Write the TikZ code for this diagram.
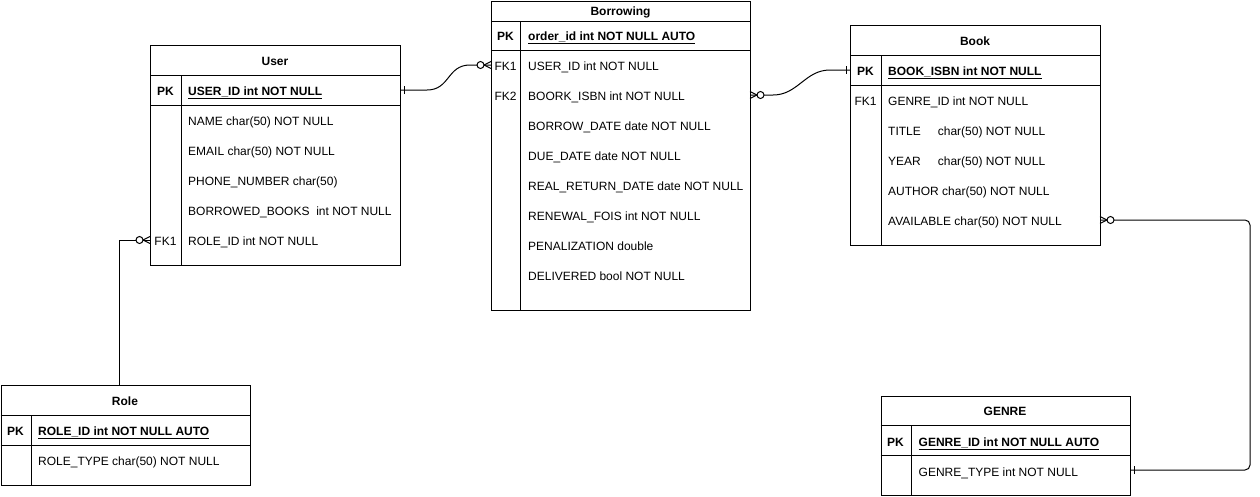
\documentclass[tikz,border=0pt]{standalone}
\usepackage{fontspec}
\setmainfont{Liberation Sans}
\usetikzlibrary{calc}
\tikzset{
  tbox/.style={draw, line width=1pt, inner sep=0pt, anchor=north west},
  tline/.style={line width=1pt},
  ttl/.style={font=\fontsize{12}{14}\selectfont\bfseries, anchor=base, inner sep=0pt},
  kcell/.style={font=\fontsize{12}{14}\selectfont, anchor=base, inner sep=0pt},
  kcellb/.style={kcell, font=\fontsize{12}{14}\selectfont\bfseries},
  attr/.style={font=\fontsize{12}{14}\selectfont, anchor=base west, inner sep=0pt},
  pkattr/.style={attr, font=\fontsize{12}{14}\selectfont\bfseries},
  conn/.style={line width=1pt},
  zeromany/.pic={
    \draw[line width=1pt] (-7,0) -- (0,-3.5) (-7,0) -- (0,3.5);
    \draw[line width=1pt, fill=white] (-10.5,0) circle[radius=3.5pt];
  },
  onetick/.pic={
    \draw[line width=1pt] (-4,-4) -- (-4,4);
  }
}
\begin{document}
\begin{tikzpicture}[x=1pt, y=-1pt]
\fill[white] (0,0) rectangle (1260,496);
\useasboundingbox (0,0) rectangle (1260,496);

% ---------- User ----------
\node[tbox, minimum width=250pt, minimum height=220pt] (user) at (150,45) {};
\draw[tline] (150,75) -- (400,75) (150,105) -- (400,105) (181,75) -- (181,265);
\node[ttl] (usert) at (275,65) {User};
\node[kcellb] (userpkl) at (165.5,95) {PK};
\node[pkattr] (userpk) at (188,95) {\underline{USER\_ID int NOT NULL}};
\node[attr] (ua1) at (188,125) {NAME char(50) NOT NULL};
\node[attr] (ua2) at (188,155) {EMAIL char(50) NOT NULL};
\node[attr] (ua3) at (188,185) {PHONE\_NUMBER char(50)};
\node[attr] (ua4) at (188,215) {BORROWED\_BOOKS\hspace{6.7pt}int NOT NULL};
\node[kcell] (ufk1l) at (165.5,245) {FK1};
\node[attr] (ua5) at (188,245) {ROLE\_ID int NOT NULL};

% ---------- Borrowing ----------
\node[tbox, minimum width=259pt, minimum height=309pt] (borrow) at (491,1) {};
\draw[tline] (491,21) -- (750,21) (491,50) -- (750,50) (520.5,21) -- (520.5,310);
\node[ttl] (borrowt) at (620.5,15) {Borrowing};
\node[kcellb] (bpkl) at (505.5,40) {PK};
\node[pkattr] (bpk) at (528,40) {\underline{order\_id int NOT NULL AUTO}};
\node[kcell] (bfk1l) at (505.5,70) {FK1};
\node[attr] (ba1) at (528,70) {USER\_ID int NOT NULL};
\node[kcell] (bfk2l) at (505.5,100) {FK2};
\node[attr] (ba2) at (528,100) {BOORK\_ISBN int NOT NULL};
\node[attr] (ba3) at (528,130) {BORROW\_DATE date NOT NULL};
\node[attr] (ba4) at (528,160) {DUE\_DATE date NOT NULL};
\node[attr] (ba5) at (528,190) {REAL\_RETURN\_DATE date NOT NULL};
\node[attr] (ba6) at (528,220) {RENEWAL\_FOIS int NOT NULL};
\node[attr] (ba7) at (528,250) {PENALIZATION double};
\node[attr] (ba8) at (528,280) {DELIVERED bool NOT NULL};

% ---------- Book ----------
\node[tbox, minimum width=250pt, minimum height=220pt] (book) at (850,25) {};
\draw[tline] (850,55) -- (1100,55) (850,85) -- (1100,85) (881,55) -- (881,245);
\node[ttl] (bookt) at (975,45) {Book};
\node[kcellb] (bkpkl) at (865.5,75) {PK};
\node[pkattr] (bkpkt) at (888,75) {\underline{BOOK\_ISBN int NOT NULL}};
\node[kcell] (bkfk1l) at (865.5,105) {FK1};
\node[attr] (bk1) at (888,105) {GENRE\_ID int NOT NULL};
\node[attr] (bk2) at (888,135) {TITLE\hspace{17pt}char(50) NOT NULL};
\node[attr] (bk3) at (888,165) {YEAR\hspace{17pt}char(50) NOT NULL};
\node[attr] (bk4) at (888,195) {AUTHOR char(50) NOT NULL};
\node[attr] (bk5) at (888,225) {AVAILABLE char(50) NOT NULL};

% ---------- Role ----------
\node[tbox, minimum width=249.5pt, minimum height=100pt] (role) at (0.5,385) {};
\draw[tline] (0.5,415) -- (250,415) (0.5,445) -- (250,445) (31,415) -- (31,485);
\node[ttl] (rolet) at (125,405) {Role};
\node[kcellb] (rpkl) at (15.5,435) {PK};
\node[pkattr] (rpk) at (38,435) {\underline{ROLE\_ID int NOT NULL AUTO}};
\node[attr] (ra1) at (38,465) {ROLE\_TYPE char(50) NOT NULL};

% ---------- Genre ----------
\node[tbox, minimum width=249.5pt, minimum height=99.5pt] (genre) at (880.5,395.5) {};
\draw[tline] (880.5,425.5) -- (1130,425.5) (880.5,455.5) -- (1130,455.5) (911,425.5) -- (911,495);
\node[ttl] (genret) at (1005,415) {GENRE};
\node[kcellb] (gpkl) at (895.5,446) {PK};
\node[pkattr] (gpk) at (918.5,446) {\underline{GENRE\_ID int NOT NULL AUTO}};
\node[attr] (ga1) at (918.5,476) {GENRE\_TYPE int NOT NULL};

% ---------- connector ends ----------
\coordinate (upk) at (400,90);
\coordinate (bfk1) at (491,65);
\coordinate (bfk2) at (750,95);
\coordinate (bkpk) at (850,70);
\coordinate (ufk1) at (150,240);
\coordinate (rtop) at (119,385);
\coordinate (bkav) at (1100,220);
\coordinate (gturn) at (1250,470);
\coordinate (gty) at (1130,470);

% ---------- connectors ----------
\draw[conn] (upk) -- ($(upk)+(27,0)$)
  .. controls ($(upk)+(50,0)$) and ($(bfk1)+(-44,0)$) .. ($(bfk1)+(-21,0)$) -- (bfk1);
\draw[conn] (bfk2) -- ($(bfk2)+(23,0)$)
  .. controls ($(bfk2)+(48,0)$) and ($(bkpk)+(-45,0)$) .. ($(bkpk)+(-20,0)$) -- (bkpk);
\draw[conn] (ufk1) -| (rtop);
\draw[conn, rounded corners=5pt] (bkav) -| (gturn) -- (gty);

% ---------- ER symbols ----------
\pic at (bfk1) {zeromany};
\pic at (ufk1) {zeromany};
\pic[rotate=180] at (bfk2) {zeromany};
\pic[rotate=180] at (bkav) {zeromany};
\pic[rotate=180] at (upk) {onetick};
\pic at (bkpk) {onetick};
\pic[rotate=180] at (gty) {onetick};
\end{tikzpicture}
\end{document}
